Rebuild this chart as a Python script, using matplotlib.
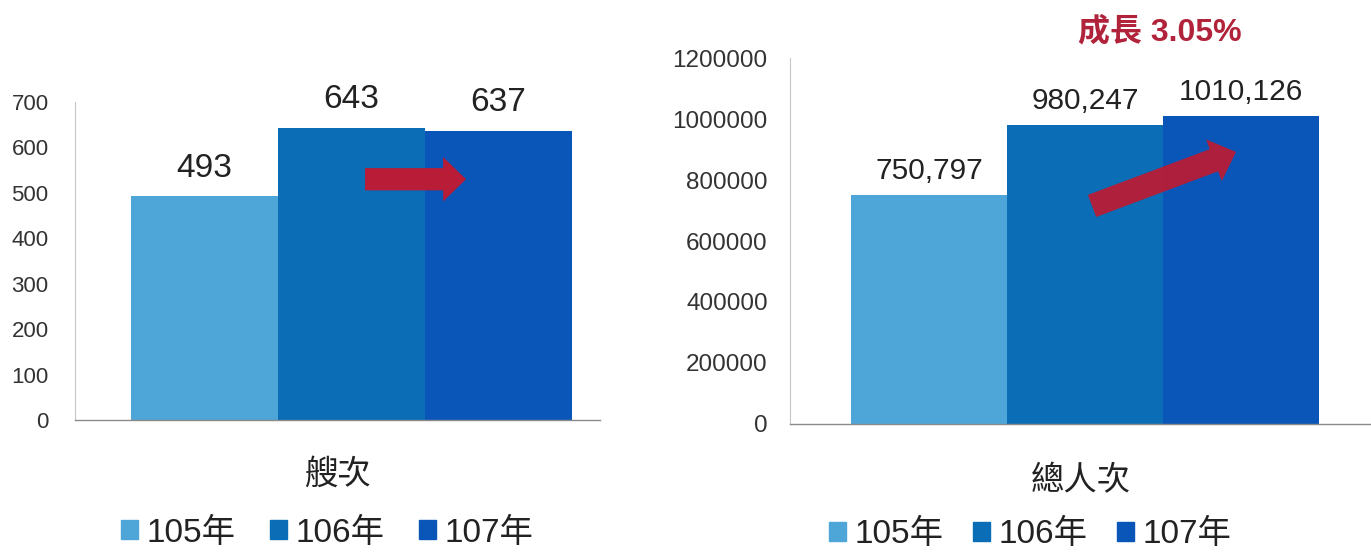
import matplotlib.pyplot as plt
from matplotlib.patches import FancyArrowPatch, Patch
from matplotlib.ticker import StrMethodFormatter

plt.rcParams['font.family'] = ['Liberation Sans', 'Noto Sans CJK TC']

# data
years = ['105年', '106年', '107年']
ships = [493, 643, 637]
ship_labels = ['493', '643', '637']
people = [750797, 980247, 1010126]
people_labels = ['750,797', '980,247', '1010,126']
colors = ['#4ea6d8', '#0a6db6', '#0a56b8']
arrow_red = '#b81c36'
txt = '#333333'

fig = plt.figure(figsize=(13.71, 5.52), dpi=100)

ax1 = fig.add_axes([0.0547, 0.2391, 0.3829, 0.5761])
ax2 = fig.add_axes([0.5762, 0.2319, 0.4238, 0.6630])


def style(ax, pad, size):
    for s in ['top', 'right']:
        ax.spines[s].set_visible(False)
    ax.spines['left'].set_color('#c8c8c8')
    ax.spines['left'].set_linewidth(0.8)
    ax.spines['bottom'].set_color('#8a8a8a')
    ax.spines['bottom'].set_linewidth(1.0)
    ax.set_xticks([])
    ax.tick_params(axis='y', length=0, pad=pad, labelsize=size, labelcolor=txt)


# left chart: ship counts
x = range(len(years))
ax1.bar(x, ships, width=1.0, color=colors)
ax1.set_xlim(-0.881, 2.69)
ax1.set_ylim(0, 700)
ax1.set_yticks(range(0, 701, 100))
style(ax1, 19, 16)
for i, v in enumerate(ships):
    ax1.annotate(ship_labels[i], (i, v), xytext=(0, 9), textcoords='offset points',
                 ha='center', va='bottom', fontsize=24, color='#222222')
ax1.set_xlabel('艘次', fontsize=24, color='#222222', labelpad=28)
ax1.add_patch(FancyArrowPatch((1.092, 530), (1.779, 530),
                              arrowstyle='simple,head_length=16.5,head_width=32,tail_width=16',
                              mutation_scale=1, shrinkA=0, shrinkB=0,
                              color=arrow_red, lw=0))

# right chart: total visitors
ax2.bar(x, people, width=1.0, color=colors)
ax2.set_xlim(-0.891, 2.833)
ax2.set_ylim(0, 1200000)
ax2.set_yticks(range(0, 1200001, 200000))
ax2.yaxis.set_major_formatter(StrMethodFormatter('{x:.0f}'))
style(ax2, 16, 17.5)
for i, v in enumerate(people):
    ax2.annotate(people_labels[i], (i, v), xytext=(0, 7), textcoords='offset points',
                 ha='center', va='bottom', fontsize=21.5, color='#222222')
ax2.set_xlabel('總人次', fontsize=24, color='#222222', labelpad=30)
ax2.add_patch(FancyArrowPatch((1.045, 715000), (1.968, 892000),
                              arrowstyle='simple,head_length=17,head_width=32,tail_width=17',
                              mutation_scale=1, shrinkA=0, shrinkB=0,
                              color=arrow_red, lw=0, alpha=0.95))
fig.text(0.846, 0.942, '成長 3.05%', fontsize=23, fontweight='bold',
         color='#b0233a', ha='center', va='center')

# legends
handles = [Patch(color=c) for c in colors]
for cx, cy, cs in [(0.2385, 0.034, 1.05), (0.7515, 0.032, 0.9)]:
    fig.legend(handles, years, loc='center', bbox_to_anchor=(cx, cy), ncol=3,
               frameon=False, fontsize=24, handlelength=0.5, handleheight=0.5,
               handletextpad=0.25, columnspacing=cs, labelcolor='#222222')

fig.savefig('out.png', dpi=100)
